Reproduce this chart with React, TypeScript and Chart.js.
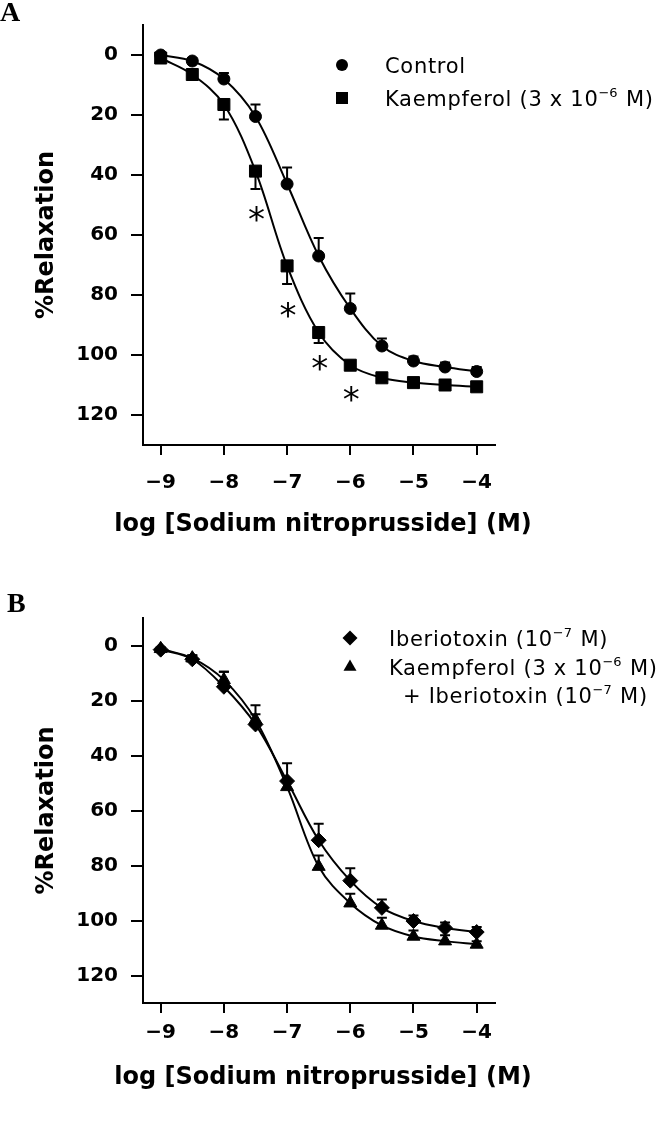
import React, { useEffect, useRef } from 'react';
import { Chart, registerables } from 'chart.js';

Chart.register(...registerables);

// ---------- data ----------
const logSNP = [-9, -8.5, -8, -7.5, -7, -6.5, -6, -5.5, -5, -4.5, -4];

// Panel A
const controlMean = [0, 2, 8, 20.5, 43, 67, 84.5, 97, 102, 104, 105.5];
const controlSem = [0.5, 1, 2, 4, 5.5, 6, 5, 2.5, 1.5, 1.5, 1.5];
const kaempMean = [1, 6.5, 16.5, 38.7, 70.3, 92.5, 103.4, 107.6, 109.2, 110, 110.6];
const kaempSem = [0.5, 1.5, 5, 6, 6, 3.5, 1, 1, 0.8, 0.8, 0.8];
const starX = [-7.5, -7, -6.5, -6];
const starY = [53, 85, 102.5, 113];

// Panel B
const ibtxMean = [1.5, 5, 15, 28.7, 49.3, 70.8, 85.5, 95.4, 100.2, 102.7, 104.2];
const ibtxSem = [0.5, 1.5, 5.5, 7, 6.5, 6, 4.5, 3, 2, 2, 1.8];
const comboMean = [1.2, 4.6, 12.5, 27, 51.4, 80.4, 93.7, 101.8, 105.8, 107.5, 108.7];
const comboSem = [0.5, 1, 3, 2, 2, 4, 3.4, 2.8, 2.2, 2.1, 1.2];

const xTicks = [-9, -8, -7, -6, -5, -4];
const yTicks = [0, 20, 40, 60, 80, 100, 120];

const xTitle = 'log [Sodium nitroprusside] (M)';
const yTitle = '%Relaxation';

type Seg = { t: string; sup?: boolean };
const legendA: Seg[][] = [
  [{ t: 'Control' }],
  [{ t: 'Kaempferol (3 x 10' }, { t: '\u22126', sup: true }, { t: ' M)' }],
];
const legendB: Seg[][] = [
  [{ t: 'Iberiotoxin (10' }, { t: '\u22127', sup: true }, { t: ' M)' }],
  [{ t: 'Kaempferol (3 x 10' }, { t: '\u22126', sup: true }, { t: ' M)' }],
  [{ t: '+ Iberiotoxin (10' }, { t: '\u22127', sup: true }, { t: ' M)' }],
];

// ---------- helpers ----------
const MINUS = '\u2212';
const fmt = (v: number) => (v < 0 ? MINUS + Math.abs(v) : String(v));

function drawMarker(ctx: CanvasRenderingContext2D, kind: string, x: number, y: number) {
  ctx.beginPath();
  if (kind === 'circle') {
    ctx.arc(x, y, 6, 0, Math.PI * 2);
  } else if (kind === 'rect') {
    ctx.rect(x - 6, y - 6, 12, 12);
  } else if (kind === 'diamond') {
    ctx.moveTo(x, y - 7.5);
    ctx.lineTo(x + 7.5, y);
    ctx.lineTo(x, y + 7.5);
    ctx.lineTo(x - 7.5, y);
    ctx.closePath();
  } else if (kind === 'triangle') {
    const r = 7.5;
    ctx.moveTo(x, y - r);
    ctx.lineTo(x + r * Math.sin((2 * Math.PI) / 3), y - r * Math.cos((2 * Math.PI) / 3));
    ctx.lineTo(x + r * Math.sin((4 * Math.PI) / 3), y - r * Math.cos((4 * Math.PI) / 3));
    ctx.closePath();
  }
  ctx.fill();
}

function drawSegs(ctx: CanvasRenderingContext2D, segs: Seg[], x: number, baseline: number) {
  let cx = x;
  const c: any = ctx;
  for (const s of segs) {
    ctx.font = s.sup ? '13px "DejaVu Sans"' : '21px "DejaVu Sans"';
    c.letterSpacing = s.sup ? '0px' : '0.7px';
    const yy = s.sup ? baseline - 9 : baseline;
    ctx.fillText(s.t, cx, yy);
    cx += ctx.measureText(s.t).width + (s.sup ? 1 : 0);
  }
  c.letterSpacing = '0px';
}

type PanelCfg = {
  padTop: number;
  xAxisH: number;
  xTickPad: number;
  xTitleY: number;
  label: string;
  labelX: number;
  labelY: number;
  legend: Seg[][];
  markers: string[];
  markerX: number;
  markerY: number[];
  textX: number[];
  textBase: number[];
  stars?: { x: number[]; y: number[] };
  datasets: any[];
};

function makeChart(canvas: HTMLCanvasElement, p: PanelCfg) {
  const errorPlugin = {
    id: 'errBars',
    beforeDatasetsDraw(chart: any) {
      const { ctx } = chart;
      const xs = chart.scales.x;
      const ys = chart.scales.y;
      ctx.save();
      ctx.strokeStyle = '#000';
      ctx.lineWidth = 2;
      chart.data.datasets.forEach((ds: any) => {
        ds.data.forEach((pt: any, i: number) => {
          const e = ds.errs[i];
          const px = xs.getPixelForValue(pt.x);
          const py0 = ys.getPixelForValue(pt.y);
          const py1 = ys.getPixelForValue(pt.y + ds.errDir * e);
          ctx.beginPath();
          ctx.moveTo(px, py0);
          ctx.lineTo(px, py1);
          ctx.moveTo(px - 5, py1);
          ctx.lineTo(px + 5, py1);
          ctx.stroke();
        });
      });
      ctx.restore();
    },
  };

  const decorPlugin = {
    id: 'decor',
    afterDraw(chart: any) {
      const { ctx, chartArea } = chart;
      ctx.save();
      ctx.fillStyle = '#000';
      ctx.textAlign = 'left';
      ctx.textBaseline = 'alphabetic';
      ctx.font = 'bold 28px "Liberation Serif"';
      ctx.fillText(p.label, p.labelX, p.labelY);

      // axis titles
      ctx.font = 'bold 24px "DejaVu Sans"';
      ctx.textAlign = 'center';
      ctx.textBaseline = 'middle';
      ctx.fillText(xTitle, (chartArea.left + chartArea.right) / 2 + 4, p.xTitleY);
      ctx.save();
      ctx.translate(47, (chartArea.top + chartArea.bottom) / 2);
      ctx.rotate(-Math.PI / 2);
      ctx.fillText(yTitle, 0, 0);
      ctx.restore();

      ctx.textAlign = 'left';
      ctx.textBaseline = 'alphabetic';
      p.markers.forEach((m, i) => drawMarker(ctx, m, p.markerX, p.markerY[i]));
      p.legend.forEach((segs, i) => drawSegs(ctx, segs, p.textX[i], p.textBase[i]));

      if (p.stars) {
        const xs = chart.scales.x;
        const ys = chart.scales.y;
        ctx.font = '34px "DejaVu Sans"';
        ctx.textAlign = 'center';
        const m = ctx.measureText('*');
        const dy = (m.actualBoundingBoxAscent - m.actualBoundingBoxDescent) / 2;
        p.stars.x.forEach((xv, i) => {
          ctx.fillText('*', xs.getPixelForValue(xv) + 1, ys.getPixelForValue(p.stars!.y[i]) + dy);
        });
      }
      ctx.restore();
    },
  };

  const tickFont = { family: '"DejaVu Sans"', weight: 'bold' as const, size: 20 };

  return new Chart(canvas, {
    type: 'line',
    data: { datasets: p.datasets },
    plugins: [errorPlugin, decorPlugin],
    options: {
      animation: false,
      responsive: false,
      maintainAspectRatio: false,
      devicePixelRatio: 1,
      events: [],
      layout: { padding: { left: 0, top: p.padTop, right: 175, bottom: 0 } },
      plugins: { legend: { display: false }, tooltip: { enabled: false }, title: { display: false } },
      scales: {
        x: {
          type: 'linear',
          min: -9.28,
          max: -3.71,
          afterBuildTicks: (s: any) => {
            s.ticks = xTicks.map((v) => ({ value: v }));
          },
          afterFit: (s: any) => {
            s.height = p.xAxisH;
          },
          grid: { drawOnChartArea: false, drawTicks: true, tickLength: 10, color: '#000', lineWidth: 2 },
          border: { display: true, color: '#000', width: 2 },
          ticks: {
            autoSkip: false,
            maxRotation: 0,
            color: '#000',
            font: tickFont,
            padding: p.xTickPad,
            callback: (v: any) => fmt(Number(v)),
          },
          title: { display: false },
        },
        y: {
          type: 'linear',
          reverse: true,
          min: -10,
          max: 130,
          afterBuildTicks: (s: any) => {
            s.ticks = yTicks.map((v) => ({ value: v }));
          },
          afterFit: (s: any) => {
            s.width = 143;
          },
          grid: { drawOnChartArea: false, drawTicks: true, tickLength: 12, color: '#000', lineWidth: 2 },
          border: { display: true, color: '#000', width: 2 },
          ticks: {
            autoSkip: false,
            color: '#000',
            font: tickFont,
            padding: 13,
            callback: (v: any) => fmt(Number(v)),
          },
          title: { display: false },
        },
      },
    } as any,
  });
}

function series(label: string, ys: number[], errs: number[], errDir: number, style: string, radius: number) {
  return {
    label,
    data: logSNP.map((x, i) => ({ x, y: ys[i] })),
    errs,
    errDir,
    borderColor: '#000',
    borderWidth: 2,
    backgroundColor: '#000',
    pointStyle: style,
    pointRadius: radius,
    pointBackgroundColor: '#000',
    pointBorderColor: '#000',
    pointBorderWidth: 1,
    tension: 0.35,
    fill: false,
    clip: false,
  };
}

export default function App() {
  const refA = useRef<HTMLCanvasElement>(null);
  const refB = useRef<HTMLCanvasElement>(null);

  useEffect(() => {
    const a = makeChart(refA.current!, {
      padTop: 25,
      xAxisH: 125,
      xTickPad: 16,
      xTitleY: 525,
      label: 'A',
      labelX: 0,
      labelY: 21,
      legend: legendA,
      markers: ['circle', 'rect'],
      markerX: 342,
      markerY: [65, 98],
      textX: [385, 385],
      textBase: [72.5, 105.5],
      stars: { x: starX, y: starY },
      datasets: [
        series('Control', controlMean, controlSem, -1, 'circle', 6),
        series('Kaempferol (3 x 10^-6 M)', kaempMean, kaempSem, 1, 'rect', 8.5),
      ],
    });
    const b = makeChart(refB.current!, {
      padTop: 48,
      xAxisH: 139,
      xTickPad: 8,
      xTitleY: 508,
      label: 'B',
      labelX: 7,
      labelY: 42,
      legend: legendB,
      markers: ['diamond', 'triangle'],
      markerX: 350,
      markerY: [68, 97],
      textX: [389, 389, 403],
      textBase: [75.5, 105, 133],
      datasets: [
        series('Iberiotoxin (10^-7 M)', ibtxMean, ibtxSem, -1, 'rectRot', 7.5),
        series('Kaempferol (3 x 10^-6 M) + Iberiotoxin (10^-7 M)', comboMean, comboSem, -1, 'triangle', 7.5),
      ],
    });
    return () => {
      a.destroy();
      b.destroy();
    };
  }, []);

  return (
    <div style={{ position: 'absolute', left: 0, top: 0, width: 670, height: 1142, background: '#fff' }}>
      <canvas ref={refA} width={670} height={570} style={{ position: 'absolute', left: 0, top: 0, display: 'block' }} />
      <canvas ref={refB} width={670} height={572} style={{ position: 'absolute', left: 0, top: 570, display: 'block' }} />
    </div>
  );
}
